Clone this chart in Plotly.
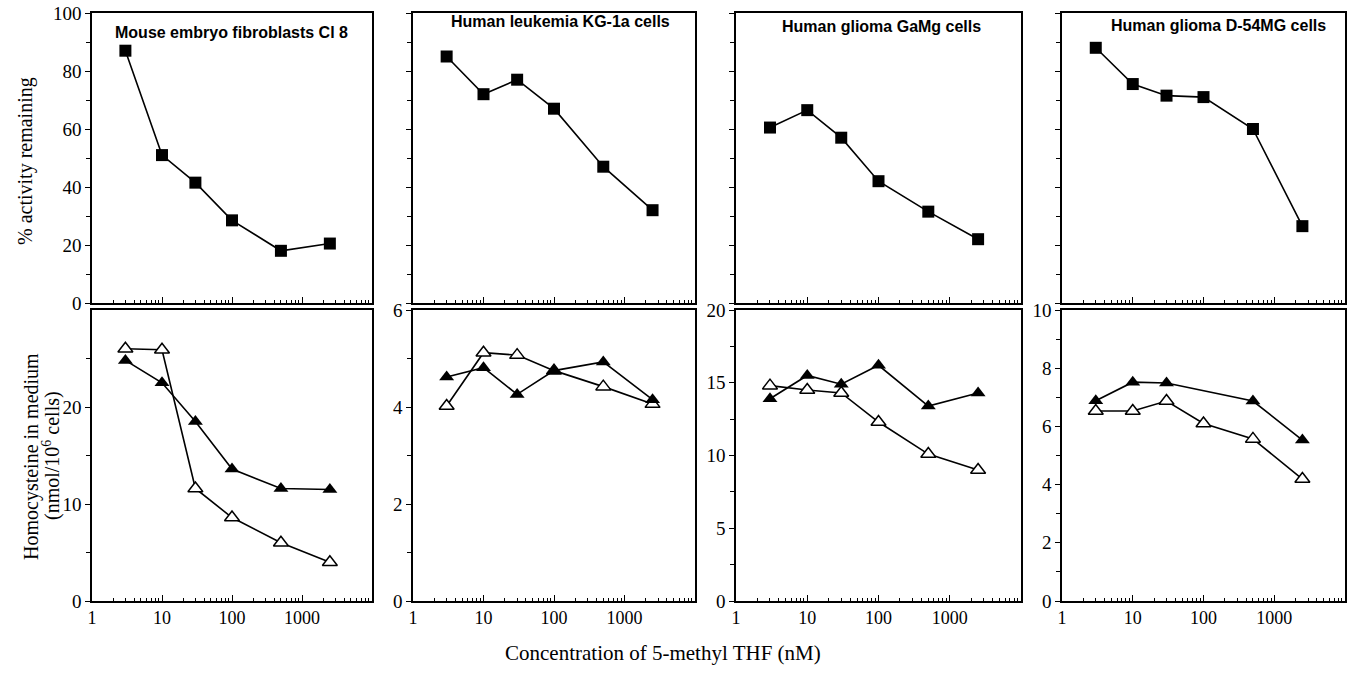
import plotly.graph_objects as go

# ---------------- data ----------------
conc = [3, 10, 30, 100, 500, 2500]

panel_titles = ["Mouse embryo fibroblasts Cl 8", "Human leukemia KG-1a cells",
                "Human glioma GaMg cells", "Human glioma D-54MG cells"]

act_mef = [87, 51, 41.5, 28.5, 18, 20.5]
act_kg1a = [85, 72, 77, 67, 47, 32]
act_gamg = [60.5, 66.5, 57, 42, 31.5, 22]
act_d54 = [88, 75.5, 71.5, 71, 60, 26.5]

hcy_filled_mef = [24.8, 22.5, 18.5, 13.6, 11.6, 11.5]
hcy_open_mef = [26, 25.9, 11.6, 8.6, 6, 4]
hcy_filled_kg1a = [4.62, 4.81, 4.26, 4.75, 4.93, 4.15]
hcy_open_kg1a = [4.02, 5.12, 5.07, 4.75, 4.42, 4.06]
hcy_filled_gamg = [13.9, 15.5, 14.9, 16.2, 13.4, 14.3]
hcy_open_gamg = [14.8, 14.5, 14.3, 12.3, 10.1, 9.0]
hcy_filled_d54 = [6.88, 7.52, 7.49, None, 6.87, 5.53]
hcy_open_d54 = [6.53, 6.53, 6.87, 6.1, 5.57, 4.19]

activity = [act_mef, act_kg1a, act_gamg, act_d54]
hcy_filled = [hcy_filled_mef, hcy_filled_kg1a, hcy_filled_gamg, hcy_filled_d54]
hcy_open = [hcy_open_mef, hcy_open_kg1a, hcy_open_gamg, hcy_open_d54]

bottom_ymax = [30, 6, 20, 10]
bottom_major = [[0, 10, 20], [0, 2, 4, 6], [0, 5, 10, 15, 20], [0, 2, 4, 6, 8, 10]]
bottom_minor = [[5, 15, 25], [1, 3, 5], [2.5, 7.5, 12.5, 17.5], [1, 3, 5, 7, 9]]
x_ticks = [1, 10, 100, 1000]
x_ticklabels = ["1", "10", "100", "1000"]

# ---------------- layout geometry ----------------
W, H = 1350, 686
col_px = [(92, 372), (413, 695), (736, 1021), (1062, 1345)]
top_px = (13, 303)
bot_px = (310, 601)

def px_x(p):
    return p / W

def px_y(p):
    return 1 - p / H

def ydom(px):
    return [px_y(px[1]), px_y(px[0])]

minor_x = [m * 10 ** d for d in range(0, 4) for m in range(2, 10)]

serif = "Liberation Serif, Times New Roman, serif"
sans = "Liberation Sans, Arial, sans-serif"

fig = go.Figure()
layout = dict(width=W, height=H, margin=dict(l=0, r=0, t=0, b=0, pad=0),
              plot_bgcolor="white", paper_bgcolor="white", showlegend=False,
              font=dict(family=serif, size=18, color="black"))

line_style = dict(color="black", width=1.6)

for i in range(4):
    kt = i + 1
    kb = i + 5
    xs_t = "" if kt == 1 else str(kt)
    xs_b = str(kb)
    xdom = [px_x(col_px[i][0]), px_x(col_px[i][1])]

    common_x = dict(type="log", range=[0, 4], domain=xdom, showline=True, linecolor="black",
                    linewidth=1.5, mirror=True, showgrid=False, zeroline=False, automargin=False,
                    ticklabeloverflow="allow",
                    tickvals=x_ticks, ticktext=x_ticklabels, ticks="inside", ticklen=6,
                    tickwidth=1.2, tickcolor="black",
                    minor=dict(tickvals=minor_x, ticks="inside", ticklen=3, tickwidth=1, tickcolor="black"))
    layout["xaxis" + xs_t] = dict(common_x, anchor="y" + xs_t, showticklabels=False)
    layout["xaxis" + xs_b] = dict(common_x, anchor="y" + xs_b, showticklabels=True,
                                  tickfont=dict(family=serif, size=18))

    layout["yaxis" + xs_t] = dict(range=[0, 100], domain=ydom(top_px), anchor="x" + xs_t,
                                  showline=True, linecolor="black", linewidth=1.5, mirror=True,
                                  showgrid=False, zeroline=False, automargin=False,
                                  ticklabeloverflow="allow",
                                  tickvals=[0, 20, 40, 60, 80, 100], ticks="outside", ticklen=5,
                                  tickwidth=1.2, tickcolor="black", showticklabels=(i == 0),
                                  tickfont=dict(family=serif, size=19),
                                  minor=dict(tickvals=[10, 30, 50, 70, 90], ticks="outside",
                                             ticklen=4, tickwidth=1, tickcolor="black"))
    layout["yaxis" + xs_b] = dict(range=[0, bottom_ymax[i]], domain=ydom(bot_px), anchor="x" + xs_b,
                                  showline=True, linecolor="black", linewidth=1.5, mirror=True,
                                  showgrid=False, zeroline=False, automargin=False,
                                  ticklabeloverflow="allow",
                                  tickvals=bottom_major[i], ticks="outside", ticklen=5, tickwidth=1.2,
                                  tickcolor="black", tickfont=dict(family=serif, size=19),
                                  minor=dict(tickvals=bottom_minor[i], ticks="outside", ticklen=4,
                                             tickwidth=1, tickcolor="black"))

    fig.add_trace(go.Scatter(x=conc, y=activity[i], mode="lines+markers",
                             xaxis="x" + xs_t, yaxis="y" + xs_t, line=line_style,
                             marker=dict(symbol="square", size=12, color="black")))
    fig.add_trace(go.Scatter(x=conc, y=hcy_open[i], mode="lines+markers",
                             xaxis="x" + xs_b, yaxis="y" + xs_b, line=line_style,
                             marker=dict(symbol="triangle-up", size=13, color="white",
                                         line=dict(color="black", width=1.5))))
    fig.add_trace(go.Scatter(x=conc, y=hcy_filled[i], mode="lines+markers", connectgaps=True,
                             xaxis="x" + xs_b, yaxis="y" + xs_b, line=line_style,
                             marker=dict(symbol="triangle-up", size=13, color="black")))

fig.update_layout(**layout)

# panel titles
title_pos = [(231, 32), (560, 22), (881, 27), (1218, 25)]
for t, (px, py) in zip(panel_titles, title_pos):
    fig.add_annotation(text="<b>%s</b>" % t, x=px_x(px), y=px_y(py), xref="paper", yref="paper",
                       showarrow=False, xanchor="center", yanchor="middle",
                       font=dict(family=sans, size=16, color="black"))

# axis titles
fig.add_annotation(text="% activity remaining", x=px_x(25), y=px_y(161), xref="paper", yref="paper",
                   textangle=-90, showarrow=False, xanchor="center", yanchor="middle",
                   font=dict(family=serif, size=20))
fig.add_annotation(text="Homocysteine in medium", x=px_x(32), y=px_y(457), xref="paper", yref="paper",
                   textangle=-90, showarrow=False, xanchor="center", yanchor="middle",
                   font=dict(family=serif, size=20))
fig.add_annotation(text="(nmol/10<sup>6</sup> cells)", x=px_x(51), y=px_y(456), xref="paper", yref="paper",
                   textangle=-90, showarrow=False, xanchor="center", yanchor="middle",
                   font=dict(family=serif, size=20))
fig.add_annotation(text="Concentration of 5-methyl THF (nM)", x=px_x(663), y=px_y(653),
                   xref="paper", yref="paper", showarrow=False, xanchor="center", yanchor="middle",
                   font=dict(family=serif, size=21))

fig.write_html("out.html", config={"displayModeBar": False},
               post_script="document.body.style.margin='0px';")
